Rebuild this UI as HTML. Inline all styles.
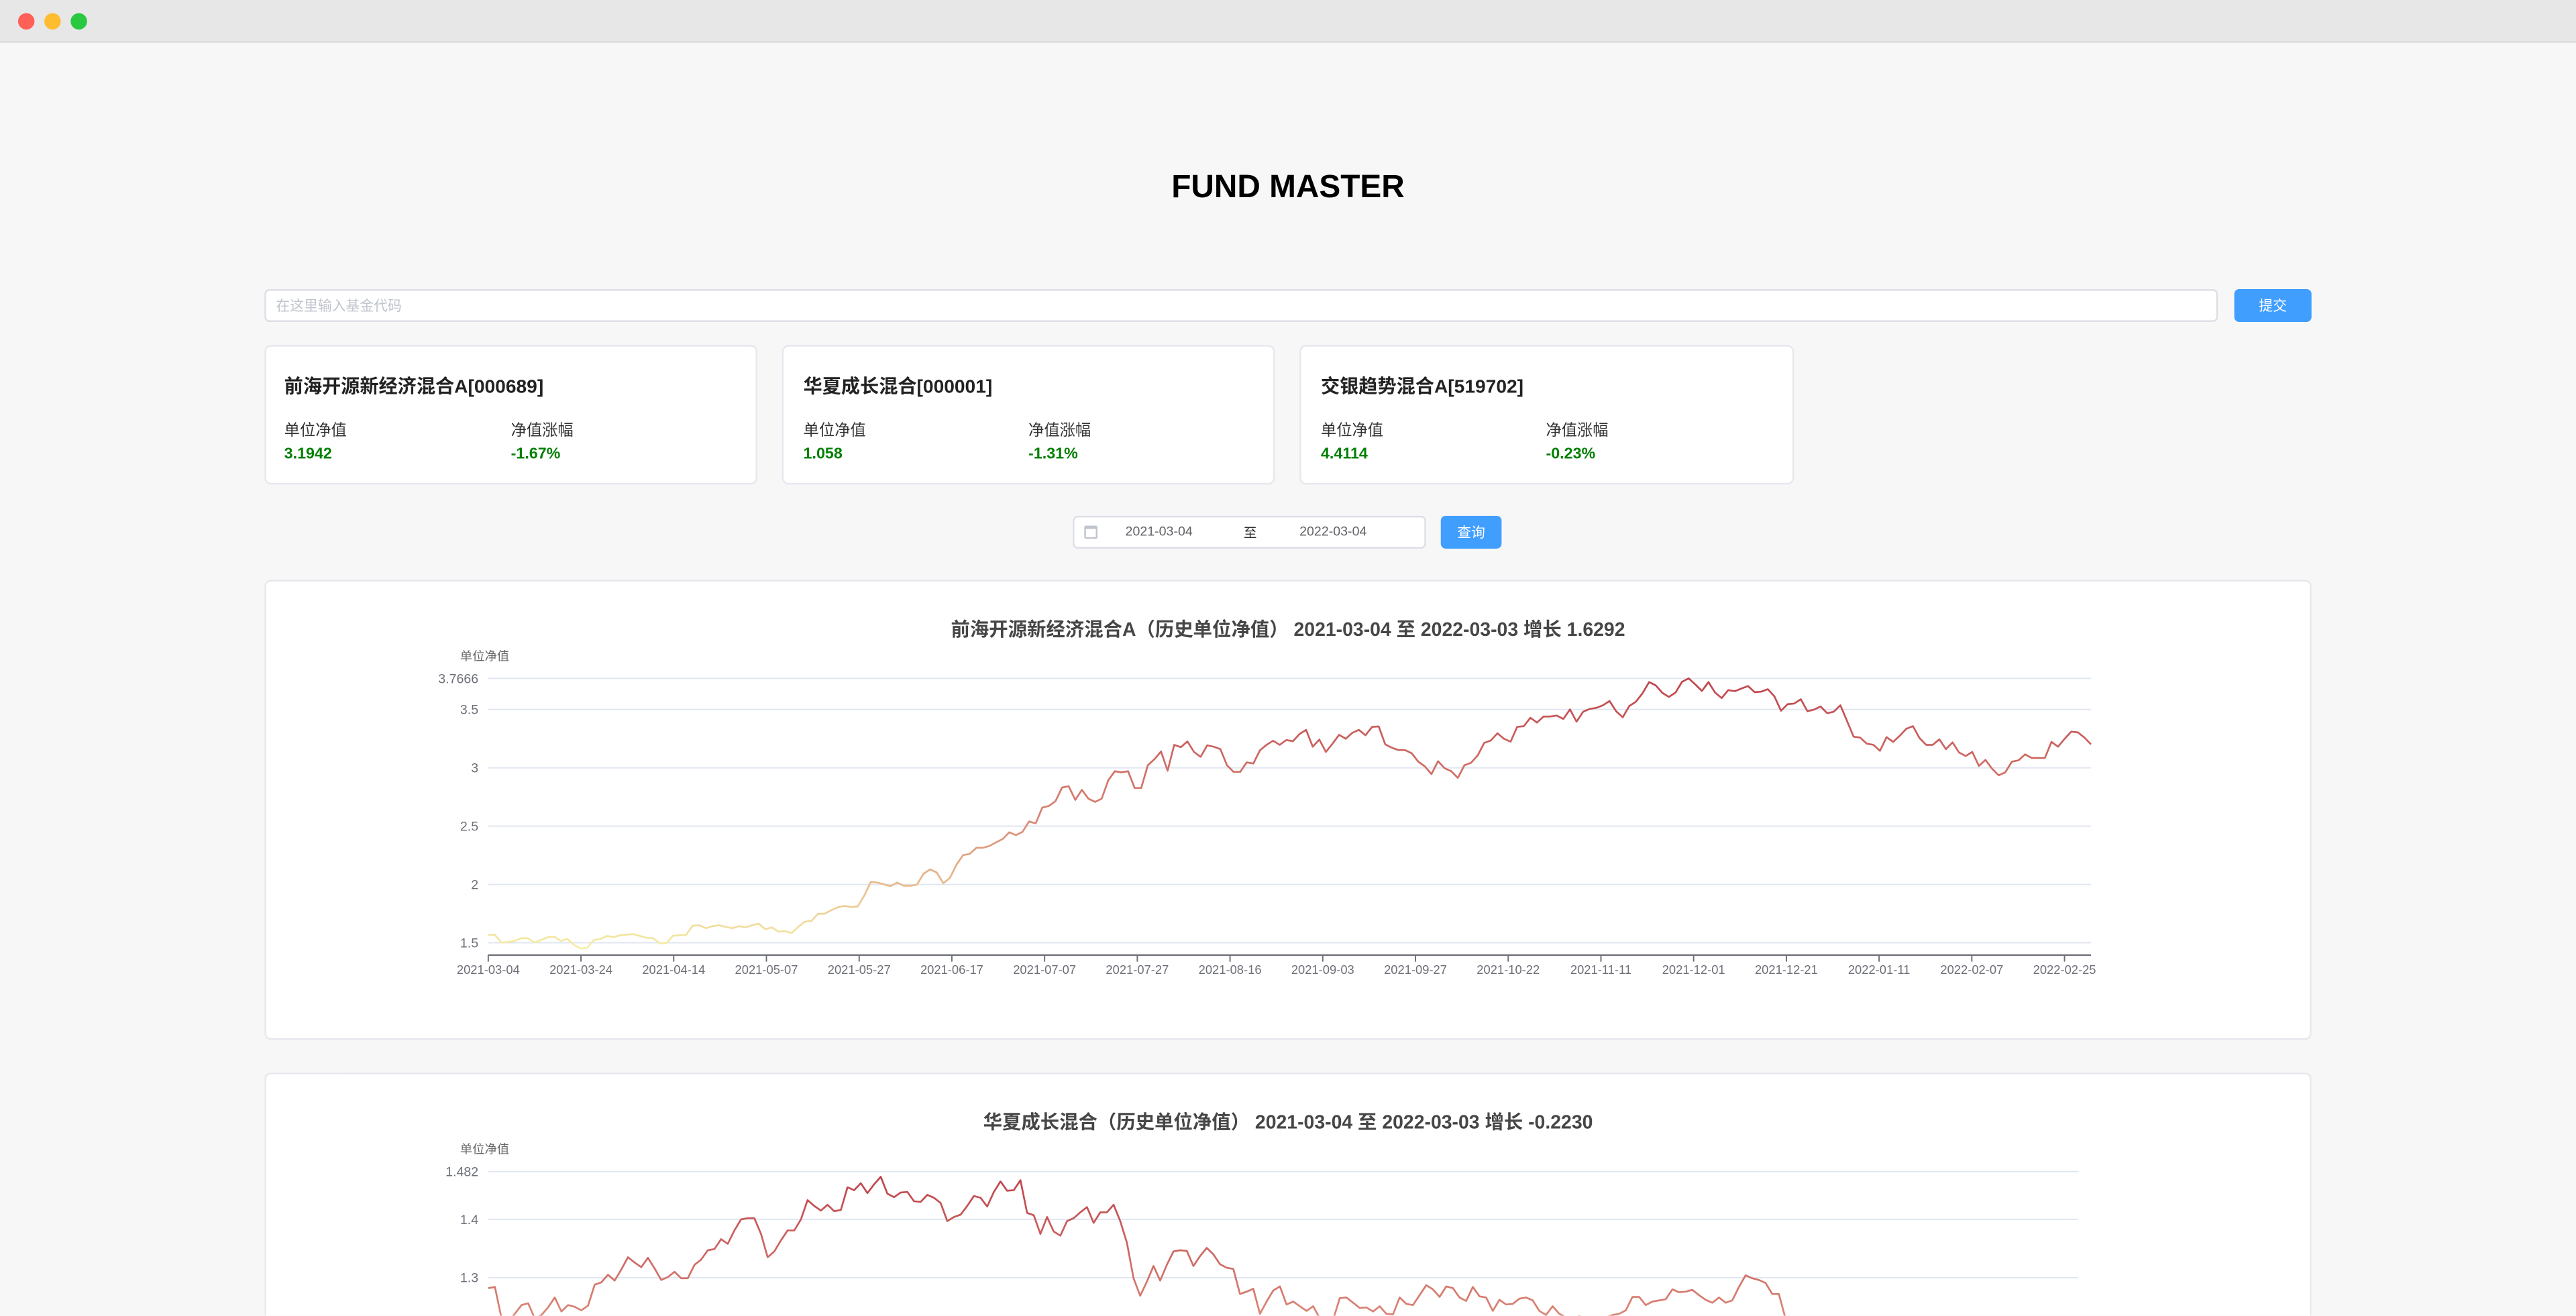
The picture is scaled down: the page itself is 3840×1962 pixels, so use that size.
<!DOCTYPE html>
<html><head><meta charset="utf-8">
<style>
html,body{margin:0;padding:0;width:3840px;height:1962px;overflow:hidden;background:#f8f7f7;}
#root{position:absolute;left:0;top:0;width:1568px;height:801px;transform:scale(2.44898);transform-origin:0 0;font-family:"Liberation Sans","Noto Sans CJK SC",sans-serif;background:#f8f7f7;overflow:hidden;}
.abs{position:absolute;box-sizing:border-box;}
.card{background:#fff;border:1px solid #e6e8ee;border-radius:4px;}
.btn{background:#409eff;color:#fff;font-size:8.5px;border-radius:3px;display:flex;align-items:center;justify-content:center;}
.ft{font-size:11.5px;font-weight:bold;color:#222;}
.lb{font-size:9.5px;color:#333;}
.val{font-size:9.5px;font-weight:bold;color:#008000;}
svg text{font-family:"Liberation Sans","Noto Sans CJK SC",sans-serif;}
</style></head>
<body>
<div id="root">
  <div class="abs" style="left:0;top:0;width:1568px;height:26px;background:#e8e7e7;border-bottom:1px solid #dcdcdc;"></div>
  <div class="abs" style="left:11px;top:8px;width:10px;height:10px;border-radius:50%;background:#fe5f57;"></div>
  <div class="abs" style="left:27px;top:8px;width:10px;height:10px;border-radius:50%;background:#febc2e;"></div>
  <div class="abs" style="left:43px;top:8px;width:10px;height:10px;border-radius:50%;background:#28c840;"></div>

  <div class="abs" style="left:0;top:103px;width:1568px;text-align:center;font-size:19.5px;font-weight:bold;color:#000;">FUND MASTER</div>

  <div class="abs" style="left:161px;top:176px;width:1189px;height:20px;background:#fff;border:1px solid #dcdfe6;border-radius:3px;font-size:8.5px;color:#c0c4cc;padding-left:6px;line-height:18px;">在这里输入基金代码</div>
  <div class="abs btn" style="left:1360px;top:176px;width:47px;height:20px;">提交</div>

  <div class="abs card" style="left:161px;top:210px;width:300px;height:85px;">
    <div class="abs ft" style="left:11px;top:16px;">前海开源新经济混合A[000689]</div>
    <div class="abs lb" style="left:11px;top:43px;">单位净值</div>
    <div class="abs lb" style="left:149px;top:43px;">净值涨幅</div>
    <div class="abs val" style="left:11px;top:60px;">3.1942</div>
    <div class="abs val" style="left:149px;top:60px;">-1.67%</div>
  </div>
  <div class="abs card" style="left:476px;top:210px;width:300px;height:85px;">
    <div class="abs ft" style="left:12px;top:16px;">华夏成长混合[000001]</div>
    <div class="abs lb" style="left:12px;top:43px;">单位净值</div>
    <div class="abs lb" style="left:149px;top:43px;">净值涨幅</div>
    <div class="abs val" style="left:12px;top:60px;">1.058</div>
    <div class="abs val" style="left:149px;top:60px;">-1.31%</div>
  </div>
  <div class="abs card" style="left:791px;top:210px;width:301px;height:85px;">
    <div class="abs ft" style="left:12px;top:16px;">交银趋势混合A[519702]</div>
    <div class="abs lb" style="left:12px;top:43px;">单位净值</div>
    <div class="abs lb" style="left:149px;top:43px;">净值涨幅</div>
    <div class="abs val" style="left:12px;top:60px;">4.4114</div>
    <div class="abs val" style="left:149px;top:60px;">-0.23%</div>
  </div>

  <div class="abs" style="left:653px;top:314px;width:215px;height:20px;background:#fff;border:1px solid #dcdfe6;border-radius:3px;font-size:8px;color:#606266;">
    <div class="abs" style="left:6px;top:5px;width:8px;height:8px;border:1px solid #c0c4cc;border-top-width:2px;border-radius:1px;"></div>
    <div class="abs" style="left:31px;top:4px;">2021-03-04</div>
    <div class="abs" style="left:103px;top:4px;color:#303133;">至</div>
    <div class="abs" style="left:137px;top:4px;">2022-03-04</div>
  </div>
  <div class="abs btn" style="left:877px;top:314px;width:37px;height:20px;">查询</div>

  <div class="abs card" style="left:161px;top:353px;width:1246px;height:280px;"></div>
  <div class="abs card" style="left:161px;top:653px;width:1246px;height:148px;border-bottom:none;border-radius:4px 4px 0 0;"></div>

  <svg id="svg" class="abs" width="1568" height="801" style="left:0;top:0;"></svg>
</div>
<script>
var dateLabels = ["2021-03-04","2021-03-24","2021-04-14","2021-05-07","2021-05-27","2021-06-17","2021-07-07","2021-07-27","2021-08-16","2021-09-03","2021-09-27","2021-10-22","2021-11-11","2021-12-01","2021-12-21","2022-01-11","2022-02-07","2022-02-25"];
var labelStep = 14;
var navFund1 = [1.568,1.568,1.502,1.506,1.516,1.539,1.539,1.502,1.523,1.547,1.553,1.516,1.533,1.482,1.451,1.457,1.523,1.533,1.558,1.549,1.564,1.570,1.574,1.558,1.543,1.539,1.496,1.496,1.560,1.564,1.568,1.646,1.650,1.625,1.642,1.650,1.636,1.625,1.642,1.632,1.650,1.664,1.615,1.632,1.595,1.599,1.584,1.636,1.681,1.687,1.749,1.749,1.779,1.804,1.816,1.806,1.810,1.903,2.022,2.016,2.001,1.985,2.016,1.989,1.989,1.999,2.092,2.129,2.102,2.010,2.057,2.170,2.252,2.262,2.314,2.314,2.330,2.361,2.390,2.447,2.423,2.451,2.540,2.523,2.659,2.673,2.714,2.831,2.842,2.725,2.811,2.735,2.708,2.735,2.893,2.971,2.961,2.971,2.827,2.827,3.022,3.074,3.140,2.975,3.197,3.177,3.226,3.136,3.094,3.193,3.181,3.160,3.022,2.965,2.965,3.047,3.037,3.150,3.197,3.232,3.197,3.238,
3.228,3.290,3.325,3.181,3.242,3.136,3.207,3.283,3.249,3.300,3.325,3.279,3.351,3.355,3.201,3.172,3.152,3.152,3.125,3.053,3.012,2.946,3.057,2.996,2.971,2.914,3.022,3.043,3.105,3.214,3.234,3.296,3.249,3.224,3.351,3.357,3.429,3.388,3.440,3.440,3.448,3.419,3.501,3.396,3.481,3.505,3.514,3.536,3.573,3.485,3.433,3.530,3.567,3.639,3.735,3.707,3.643,3.608,3.645,3.738,3.7666,3.715,3.659,3.735,3.645,3.598,3.666,3.657,3.680,3.701,3.649,3.653,3.674,3.612,3.489,3.546,3.551,3.588,3.485,3.499,3.526,3.468,3.481,3.536,3.403,3.267,3.259,3.207,3.197,3.146,3.263,3.222,3.275,3.335,3.357,3.255,3.197,3.197,3.244,3.160,3.218,3.131,3.101,3.136,3.016,3.068,2.992,2.936,2.961,3.053,3.064,3.115,3.084,3.084,3.084,3.222,3.181,3.249,3.310,3.304,3.259,3.201];
var ticksFund1 = [1.5,2,2.5,3,3.5,3.7666];
var navFund2 = [1.282,1.284,1.23,1.225,1.238,1.253,1.256,1.23,1.236,1.249,1.266,1.242,1.253,1.25,1.244,1.252,1.288,1.292,1.305,1.295,1.314,1.335,1.326,1.318,1.334,1.316,1.296,1.301,1.31,1.299,1.299,1.322,1.331,1.347,1.349,1.366,1.358,1.381,1.4,1.402,1.402,1.375,1.335,1.345,1.364,1.381,1.381,1.4,1.433,1.423,1.415,1.425,1.414,1.416,1.455,1.45,1.462,1.445,1.46,1.473,1.444,1.438,1.446,1.447,1.431,1.43,1.442,1.437,1.428,1.397,1.404,1.408,1.423,1.44,1.437,1.422,1.447,1.465,1.449,1.45,1.467,1.411,1.407,1.375,1.404,1.379,1.372,1.397,1.402,1.412,1.421,1.394,1.412,1.412,1.425,1.397,1.36,1.299,1.269,1.293,1.32,1.295,1.322,1.345,1.347,1.346,1.32,1.337,1.351,1.34,1.323,1.317,1.315,1.272,1.276,1.281,1.238,1.259,1.278,1.285,1.254,1.259,1.251,
1.243,1.251,1.23,1.23,1.228,1.265,1.266,1.257,1.248,1.249,1.242,1.251,1.238,1.237,1.266,1.255,1.253,1.27,1.287,1.28,1.267,1.285,1.282,1.266,1.26,1.284,1.268,1.266,1.243,1.262,1.254,1.255,1.264,1.266,1.261,1.243,1.236,1.251,1.238,1.232,1.23,1.234,1.23,1.226,1.228,1.232,1.236,1.238,1.244,1.267,1.267,1.253,1.259,1.261,1.263,1.28,1.275,1.276,1.279,1.27,1.262,1.257,1.266,1.257,1.261,1.284,1.304,1.299,1.296,1.291,1.272,1.272,1.23,
1.20,1.18,1.16,1.15,1.17,1.14,1.12,1.13,1.10,1.11,1.09,1.08,1.10,1.12,1.11,1.09,1.07,1.05,1.06,1.04,1.03,1.05,1.07,1.08,1.06,1.04,1.02,1.03,1.05,1.06,1.08,1.07,1.09,1.10,1.08,1.06,1.07,1.09,1.08,1.07,1.06,1.07,1.072,1.058];
var ticksFund2 = [1.0,1.1,1.2,1.3,1.4,1.482];
var titleFund1 = "前海开源新经济混合A（历史单位净值）   2021-03-04 至 2022-03-03 增长 1.6292";
var titleFund2 = "华夏成长混合（历史单位净值）   2021-03-04 至 2022-03-03 增长 -0.2230";

var NS = "http://www.w3.org/2000/svg";
var svg = document.getElementById('svg');
function mk(tag, attrs, parent){
  var e = document.createElementNS(NS, tag);
  for (var k in attrs) e.setAttribute(k, attrs[k]);
  (parent || svg).appendChild(e);
  return e;
}
function drawChart(id, values, ticks, title, g){
  var grp = mk('g', {});
  
  
  var minV = Math.min.apply(null, values), maxV = Math.max.apply(null, values);
  var xS = function(i){ return g.left + (g.right - g.left) * i / (values.length - 1); };
  var yS = function(v){ return g.yTop + (g.topVal - v) * g.pxPerUnit; };
  var t = mk('text', {x:784, y:g.titleY, 'text-anchor':'middle', 'font-size':'11.6', 'font-weight':'bold', fill:'#464646'}, grp);
  t.textContent = title;
  
  
  var an = mk('text', {x:295, y:g.yTop - 11, 'text-anchor':'middle', 'font-size':'7.5', fill:'#666'}, grp);
  an.textContent = '单位净值';
  
  
  ticks.forEach(function(tv){
    var y = yS(tv);
    var gl = mk('line', {x1:g.left, x2:g.gridRight, y1:y, y2:y, stroke:'#e0e6f1', 'stroke-width':0.8}, grp);
    
    
    var tl = mk('text', {x:g.left - 6, y:y + 2.8, 'text-anchor':'end', 'font-size':'8', fill:'#6e7079'}, grp);
    tl.textContent = String(tv);
    
    
  });
  var axisY = yS(minV) + 4;
  var ax = mk('line', {x1:g.left, x2:g.right, y1:axisY, y2:axisY, stroke:'#6e7079', 'stroke-width':0.9}, grp);
  
  
  dateLabels.forEach(function(lbl, k){
    var x = xS(k * labelStep * (values.length - 1) / 242);
    var tk = mk('line', {x1:x, x2:x, y1:axisY, y2:axisY + 4, stroke:'#6e7079', 'stroke-width':0.8}, grp);
    
    
    var tx = mk('text', {x:x, y:axisY + 11.5, 'text-anchor':'middle', 'font-size':'7.5', fill:'#6e7079'}, grp);
    tx.textContent = lbl;
    
    
  });
  var defs = mk('defs', {}, grp);
  var lg = mk('linearGradient', {id:id + '-grad', gradientUnits:'userSpaceOnUse', x1:0, x2:0, y1:yS(minV), y2:yS(maxV)}, defs);
  mk('stop', {offset:'0', 'stop-color':'#f6efa6'}, lg);
  mk('stop', {offset:'0.5', 'stop-color':'#d88273'}, lg);
  mk('stop', {offset:'1', 'stop-color':'#bf444c'}, lg);
  var pts = values.map(function(v, i){ return xS(i).toFixed(2) + ',' + yS(v).toFixed(2); }).join(' ');
  var pl = mk('polyline', {points:pts, fill:'none', stroke:'url(#' + id + '-grad)', 'stroke-width':1.1, 'stroke-linejoin':'round'}, grp);
  
  
}
drawChart('chart-000689', navFund1, ticksFund1, titleFund1,
  {left:297.2, right:1272.8, gridRight:1272.8, yTop:413, topVal:3.7666, pxPerUnit:71, titleY:387});
drawChart('chart-000001', navFund2, ticksFund2, titleFund2,
  {left:297.2, right:1265, gridRight:1265, yTop:713.2, topVal:1.482, pxPerUnit:355, titleY:687});
</script>
</body></html>
